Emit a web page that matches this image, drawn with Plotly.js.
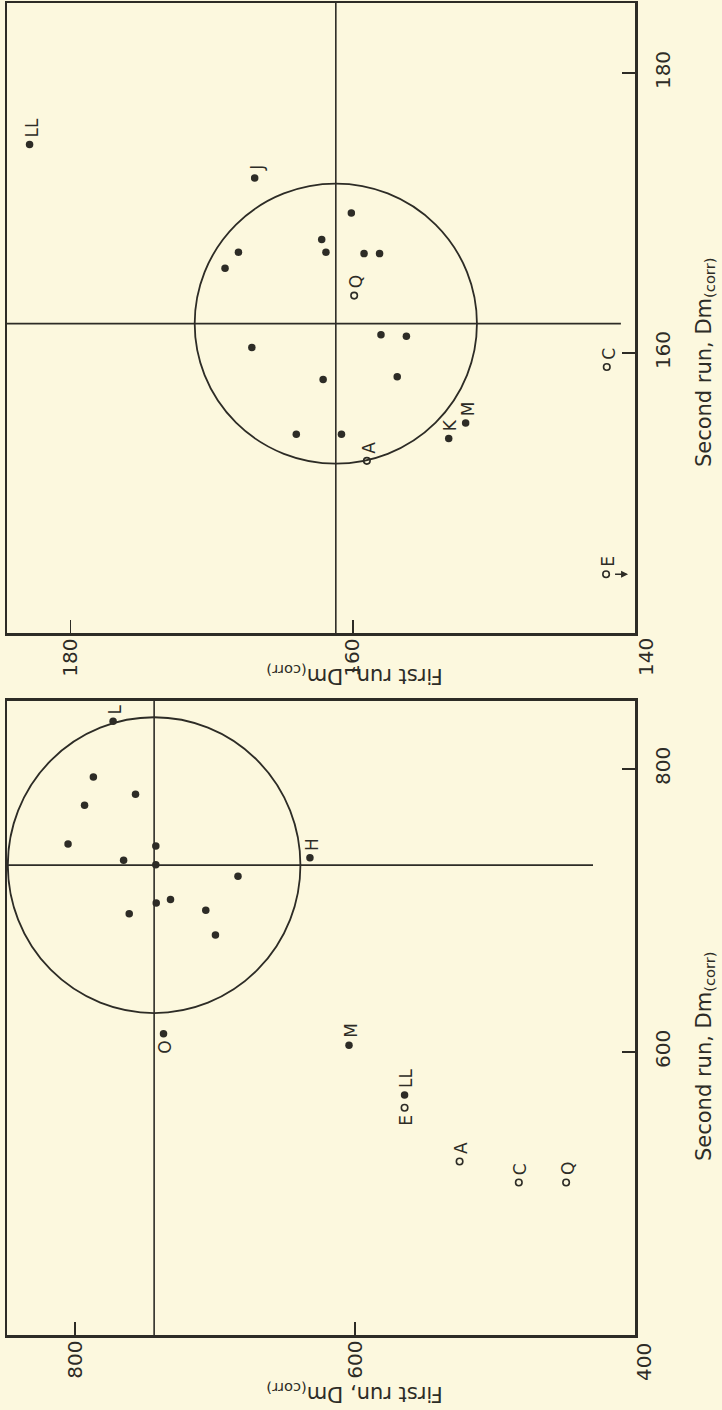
<!DOCTYPE html>
<html><head><meta charset="utf-8">
<script src="https://cdn.plot.ly/plotly-3.0.1.min.js"></script>
<style>html,body{margin:0;padding:0;background:#fcf8de}</style>
</head><body>
<div id="chart" style="width:722px;height:1410px"></div>
<script>
// ---------- Top panel (Dm(corr) values, 140-185) ----------
const topFirstRun  = [182.9, 166.95, 160.1, 162.2, 161.9, 159.2, 158.1, 168.1, 169.05, 159.9, 156.2, 158.0, 167.15, 162.1, 156.85, 164.0, 160.8, 159.0, 153.2, 152.0, 142.0, 142.05];
const topSecondRun = [174.9, 172.5, 170.0, 168.1, 167.2, 167.1, 167.1, 167.2, 166.05, 164.1, 161.2, 161.3, 160.4, 158.1, 158.3, 154.2, 154.2, 152.3, 153.9, 155.0, 159.0, 144.2];
const topLabels    = ["LL", "J", "", "", "", "", "", "", "", "Q", "", "", "", "", "", "", "", "A", "K", "M", "C", "E"];
const topOpen      = [false, false, false, false, false, false, false, false, false, true, false, false, false, false, false, false, false, true, false, false, true, true];
const topCenter    = {first: 161.2, second: 162.1};
const topRadius    = 10;
const topTicks     = [180, 160, 140];
const topRange     = {first: [140, 184.5], second: [140, 185]};
const topOffScale  = ["E"];   // point whose value lies below the scale (arrow)

// ---------- Bottom panel (Dm(corr) values, 400-850) ----------
const botFirstRun  = [772.8, 786.9, 793.2, 756.8, 805.0, 742.3, 765.3, 742.3, 683.6, 731.8, 742.0, 761.3, 706.6, 699.7, 632.2, 736.8, 604.3, 564.6, 564.6, 525.3, 483.0, 449.2];
const botSecondRun = [833.6, 794.2, 774.4, 782.1, 746.9, 745.6, 735.4, 732.2, 724.2, 707.8, 705.3, 697.6, 700.2, 682.6, 737.3, 612.8, 604.8, 569.6, 560.6, 522.6, 507.8, 507.8];
const botLabels    = ["L", "", "", "", "", "", "", "", "", "", "", "", "", "", "H", "O", "M", "LL", "E", "A", "C", "Q"];
const botOpen      = [false, false, false, false, false, false, false, false, false, false, false, false, false, false, false, false, false, false, true, true, true, true];
const botCenter    = {first: 743.5, second: 732};
const botRadius    = 104.5;
const botTicks     = [800, 600, 400];
const botRange     = {first: [400, 848.6], second: [400, 848]};
const botHLineEnd  = 430;    // horizontal reference line stops short of the axis
const topHLineEnd  = 141;

const labelsBelow  = {bot: ["O", "E"], top: []};

// ---------- styling ----------
const INK = "#2d2c26";
const BG = "#fcf8de";
const FONT = "DejaVu Sans, Liberation Sans, sans-serif";

function pointTraces(fr, sr, open, xa, ya) {
  const fx = [], fy = [], ox = [], oy = [];
  fr.forEach((v, i) => {
    if (open[i]) { ox.push(v); oy.push(sr[i]); } else { fx.push(v); fy.push(sr[i]); }
  });
  return [
    {type: "scatter", mode: "markers", x: fx, y: fy, xaxis: xa, yaxis: ya,
     marker: {symbol: "circle", size: 7.5, color: INK}, hoverinfo: "skip", cliponaxis: false},
    {type: "scatter", mode: "markers", x: ox, y: oy, xaxis: xa, yaxis: ya,
     marker: {symbol: "circle-open", size: 6.5, color: INK, line: {width: 1.6, color: INK}}, hoverinfo: "skip", cliponaxis: false}
  ];
}

const data = [].concat(
  pointTraces(botFirstRun, botSecondRun, botOpen, "x", "y"),
  pointTraces(topFirstRun, topSecondRun, topOpen, "x2", "y2")
);

function pointLabels(fr, sr, labels, xr, yr, below) {
  const out = [];
  labels.forEach((t, i) => {
    if (!t) return;
    const down = below.indexOf(t) >= 0;
    out.push({
      x: fr[i], y: sr[i], xref: xr, yref: yr, text: t, showarrow: false,
      textangle: -90, xanchor: "center", yanchor: down ? "top" : "bottom",
      yshift: down ? -5 : 5, xshift: 2,
      font: {family: FONT, size: 17, color: INK}
    });
  });
  return out;
}

const annotations = [].concat(
  pointLabels(topFirstRun, topSecondRun, topLabels, "x2", "y2", labelsBelow.top),
  pointLabels(botFirstRun, botSecondRun, botLabels, "x", "y", labelsBelow.bot)
);

// off-scale arrow
topOffScale.forEach(name => {
  const i = topLabels.indexOf(name);
  annotations.push({x: topFirstRun[i], y: topSecondRun[i], xref: "x2", yref: "y2", text: " ",
    showarrow: true, arrowhead: 2, arrowsize: 1, arrowwidth: 1.4, arrowcolor: INK,
    ax: -15, ay: 0, xshift: 22, font: {size: 2}});
});

// corner tick labels
annotations.push({x: topTicks[2], y: topTicks[2], xref: "x2", yref: "y2", text: String(topTicks[2]),
  showarrow: false, textangle: -90, xanchor: "center", yanchor: "middle", xshift: 11, yshift: -24,
  font: {family: FONT, size: 20, color: INK}});
annotations.push({x: botTicks[2], y: botTicks[2], xref: "x", yref: "y", text: String(botTicks[2]),
  showarrow: false, textangle: -90, xanchor: "center", yanchor: "middle", xshift: 9, yshift: -27,
  font: {family: FONT, size: 20, color: INK}});

// axis titles
const titleFont = {family: FONT, size: 21, color: INK};
const secondTitle = "Second run, Dm<sub>(corr)</sub>";
const firstTitle = "First run, Dm<sub>(corr)</sub>";
annotations.push({xref: "paper", x: 1, xshift: 70, xanchor: "center", yanchor: "middle",
  yref: "y2 domain", y: 0.43, text: secondTitle, textangle: -90, showarrow: false, font: titleFont});
annotations.push({xref: "paper", x: 1, xshift: 70, xanchor: "center", yanchor: "middle",
  yref: "y domain", y: 0.44, text: secondTitle, textangle: -90, showarrow: false, font: titleFont});
annotations.push({xref: "x2 domain", x: 0.554, yref: "y2 domain", y: 0, yshift: -42, xanchor: "center", yanchor: "middle",
  text: firstTitle, textangle: 180, showarrow: false, font: titleFont});
annotations.push({xref: "x domain", x: 0.554, yref: "y domain", y: 0, yshift: -58, xanchor: "center", yanchor: "middle",
  text: firstTitle, textangle: 180, showarrow: false, font: titleFont});

// reference lines and circles
const lineStyle = {color: INK, width: 1.6};
const shapes = [
  {type: "line", xref: "x2", yref: "y2 domain", x0: topCenter.first, x1: topCenter.first, y0: 0, y1: 1, line: lineStyle},
  {type: "line", xref: "x2", yref: "y2", x0: topRange.first[1], x1: topHLineEnd, y0: topCenter.second, y1: topCenter.second, line: lineStyle},
  {type: "circle", xref: "x2", yref: "y2", x0: topCenter.first - topRadius, x1: topCenter.first + topRadius,
   y0: topCenter.second - topRadius, y1: topCenter.second + topRadius, line: {color: INK, width: 1.8}},
  {type: "line", xref: "x", yref: "y domain", x0: botCenter.first, x1: botCenter.first, y0: 0, y1: 1, line: lineStyle},
  {type: "line", xref: "x", yref: "y", x0: botRange.first[1], x1: botHLineEnd, y0: botCenter.second, y1: botCenter.second, line: lineStyle},
  {type: "circle", xref: "x", yref: "y", x0: botCenter.first - botRadius, x1: botCenter.first + botRadius,
   y0: botCenter.second - botRadius, y1: botCenter.second + botRadius, line: {color: INK, width: 1.8}}
];

function axisBase(extra) {
  return Object.assign({
    showline: true, mirror: true, linecolor: INK, linewidth: 2.5,
    showgrid: false, zeroline: false, ticks: "inside", ticklen: 13, tickwidth: 1.6, tickcolor: INK,
    tickangle: -90, tickfont: {family: FONT, size: 20, color: INK}, fixedrange: true
  }, extra);
}

const layout = {
  width: 722, height: 1410,
  paper_bgcolor: BG, plot_bgcolor: BG,
  margin: {l: 7, r: 87, t: 3, b: 75},
  showlegend: false,
  xaxis: axisBase({domain: [0, 1], anchor: "y", range: [botRange.first[1], botRange.first[0]],
    tickvals: botTicks.slice(0, 2), ticktext: botTicks.slice(0, 2).map(String), ticklabelstandoff: -5}),
  yaxis: axisBase({domain: [0, 0.476], anchor: "x", side: "right", range: botRange.second,
    tickvals: botTicks.slice(0, 2), ticktext: botTicks.slice(0, 2).map(String), ticklabelstandoff: 8}),
  xaxis2: axisBase({domain: [0, 1], anchor: "y2", range: [topRange.first[1], topRange.first[0]],
    tickvals: topTicks.slice(0, 2), ticktext: topTicks.slice(0, 2).map(String), ticklabelstandoff: -5}),
  yaxis2: axisBase({domain: [0.527, 1], anchor: "x2", side: "right", range: topRange.second,
    tickvals: topTicks.slice(0, 2), ticktext: topTicks.slice(0, 2).map(String), ticklabelstandoff: 8}),
  annotations: annotations,
  shapes: shapes
};

Plotly.newPlot("chart", data, layout, {displayModeBar: false, staticPlot: true});
</script>
</body></html>
